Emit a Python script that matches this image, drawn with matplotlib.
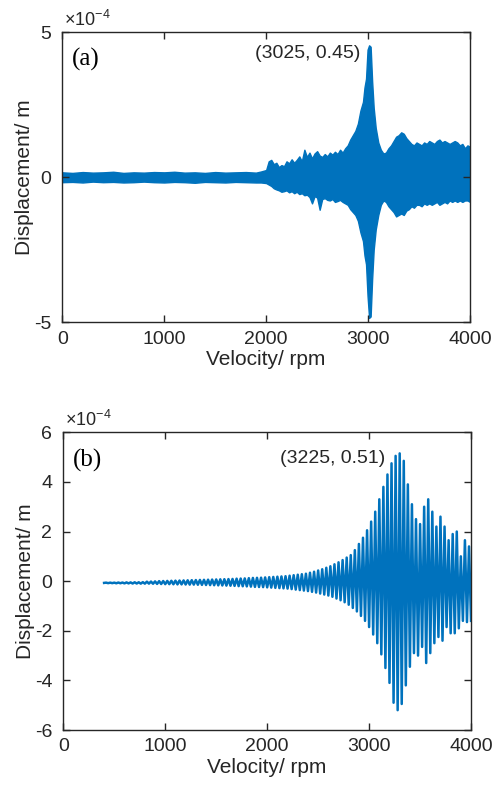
import numpy as np
import matplotlib
matplotlib.use("Agg")
import matplotlib.pyplot as plt

plt.rcParams['font.family'] = ['Liberation Sans', 'DejaVu Sans']
plt.rcParams['mathtext.fontset'] = 'custom'
plt.rcParams['mathtext.rm'] = 'Liberation Sans'
plt.rcParams['mathtext.it'] = 'Liberation Sans:italic'

# ---------------- Panel (a): envelope of the response (x1e-4 m) ----------------
rpm_a = [0, 100, 200, 300, 400, 500, 600, 700, 800, 900, 1000, 1100, 1200, 1300,
         1400, 1500, 1600, 1700, 1800, 1900, 1950,
         2000, 2025, 2050, 2075, 2100, 2125, 2150, 2175, 2200, 2225, 2250, 2275,
         2300, 2325, 2350, 2375, 2400, 2425, 2450, 2475, 2500, 2525, 2550, 2575,
         2600, 2625, 2650, 2675, 2700, 2725, 2750, 2775, 2800, 2825, 2850,
         2875, 2900, 2925, 2950, 2965, 2980, 2995, 3010, 3025, 3040, 3055, 3075,
         3100, 3125, 3150,
         3175, 3200, 3225, 3250, 3275, 3300, 3325, 3350, 3375, 3400, 3425, 3450,
         3475, 3500, 3525, 3550, 3575, 3600, 3625, 3650, 3675, 3700, 3725, 3750,
         3775, 3800, 3825, 3850, 3875, 3900, 3925, 3950, 3975, 4000]
upper_a = [0.17, 0.15, 0.18, 0.16, 0.17, 0.19, 0.15, 0.17, 0.16, 0.18, 0.17, 0.19,
           0.16, 0.17, 0.15, 0.18, 0.16, 0.17, 0.18, 0.16, 0.2,
           0.25, 0.55, 0.6, 0.45, 0.5, 0.35, 0.42, 0.38, 0.55, 0.48, 0.62, 0.5,
           0.6, 0.72, 0.55, 0.95, 0.7, 0.85, 0.65, 0.82, 0.9, 0.75, 0.7, 0.8,
           0.72, 0.85, 0.78, 0.88, 0.8, 0.95, 0.85, 1.0, 1.1, 1.3, 1.45,
           1.6, 1.85, 2.3, 2.6, 3.1, 3.4, 4.4, 4.55, 4.5, 3.3, 2.4, 1.7,
           1.2, 0.95, 0.82,
           0.85, 1.0, 1.1, 1.25, 1.4, 1.45, 1.55, 1.5, 1.35, 1.25, 1.15, 1.1,
           1.2, 1.15, 1.1, 1.2, 1.15, 1.25, 1.2, 1.15, 1.25, 1.3, 1.2, 1.25,
           1.2, 1.15, 1.2, 1.25, 1.2, 1.1, 1.15, 1.0, 1.1, 1.05]
lower_a = [-0.17, -0.16, -0.18, -0.15, -0.17, -0.16, -0.18, -0.17, -0.15, -0.17,
           -0.18, -0.16, -0.17, -0.19, -0.16, -0.17, -0.18, -0.16, -0.17, -0.18,
           -0.18,
           -0.2, -0.25, -0.3, -0.38, -0.42, -0.45, -0.5, -0.48, -0.45, -0.52,
           -0.48, -0.55, -0.5, -0.58, -0.55, -0.62, -0.6, -0.68, -0.9, -0.65,
           -0.7, -1.12, -0.75, -0.72, -0.78, -0.8, -0.75, -0.85, -0.82, -0.78,
           -0.85, -0.9, -0.95, -1.1, -1.2,
           -1.3, -1.5, -1.9, -2.2, -2.7, -3.0, -4.1, -4.85, -4.8, -3.5, -2.5,
           -1.8, -1.3, -0.95, -0.8,
           -0.85, -1.0, -1.1, -1.2, -1.35, -1.3, -1.25, -1.3, -1.15, -1.1, -1.0,
           -1.05, -0.95, -0.95, -1.0, -0.9, -0.95, -0.9, -0.95, -0.9, -0.85,
           -0.95, -0.9, -0.85, -0.9, -0.8, -0.85, -0.8, -0.85, -0.8, -0.85,
           -0.8, -0.8, -0.85]

# ---------------- Panel (b): oscillation peaks and troughs (x1e-4 m) ----------------
peak_rpm_b = np.arange(420, 4000, 40)      # 90 crests
trough_rpm_b = np.arange(440, 4001, 40)    # 90 troughs
peak_b = [-0.06, -0.06, -0.06, -0.055, -0.055, -0.05, -0.05, -0.045, -0.045, -0.04,
          -0.02, -0.015, -0.01, 0.0, 0.005, 0.01, 0.015, 0.02, 0.025, 0.03,
          0.035, 0.04, 0.045, 0.05, 0.055, 0.06, 0.065, 0.07, 0.075, 0.08,
          0.085, 0.09, 0.1, 0.105, 0.11, 0.12, 0.13, 0.135, 0.14, 0.15,
          0.16, 0.17, 0.18, 0.19, 0.2, 0.22, 0.24, 0.26, 0.28, 0.3,
          0.34, 0.38, 0.43, 0.48, 0.54, 0.6, 0.68, 0.76, 0.85, 0.95,
          1.05, 1.25, 1.5, 1.75, 2.05, 2.4, 2.8, 3.3, 3.8, 4.3,
          4.75, 5.05, 5.15, 4.85, 3.9, 3.1, 2.5, 2.3, 3.0, 3.3,
          2.8, 2.2, 2.6, 2.2, 1.65, 1.9, 2.0, 1.0, 1.65, 1.4]
trough_b = [-0.08, -0.08, -0.085, -0.085, -0.09, -0.09, -0.095, -0.095, -0.1, -0.1,
            -0.1, -0.105, -0.11, -0.115, -0.12, -0.12, -0.125, -0.13, -0.13, -0.135,
            -0.14, -0.14, -0.145, -0.15, -0.155, -0.16, -0.165, -0.17, -0.175, -0.18,
            -0.185, -0.19, -0.2, -0.205, -0.21, -0.22, -0.23, -0.235, -0.24, -0.25,
            -0.26, -0.27, -0.28, -0.29, -0.3, -0.32, -0.34, -0.36, -0.38, -0.4,
            -0.43, -0.46, -0.5, -0.54, -0.58, -0.63, -0.7, -0.77, -0.85, -0.95,
            -1.08, -1.22, -1.4, -1.6, -1.85, -2.15, -2.5, -2.95, -3.5, -4.1,
            -4.9, -5.2, -4.95, -4.2, -3.45, -2.9, -3.0, -2.65, -3.3, -2.9,
            -2.5, -2.25, -2.4, -1.85, -2.1, -2.1, -1.9, -1.6, -1.65, -1.6]

x_ticks = [0, 1000, 2000, 3000, 4000]
y_ticks_a = [-5, 0, 5]
y_ticks_b = [-6, -4, -2, 0, 2, 4, 6]
annot_a = "(3025, 0.45)"
annot_b = "(3225, 0.51)"

BLUE = '#0072BD'
DARK = '#262626'

fig = plt.figure(figsize=(4.92, 7.87), dpi=100)
ax_a = fig.add_axes([0.1266, 0.5905, 0.8287, 0.3685])
ax_b = fig.add_axes([0.1287, 0.0724, 0.8287, 0.3783])

# panel a
ax_a.fill_between(rpm_a, lower_a, upper_a, color=BLUE,
                  edgecolor=BLUE, linewidth=1.0)

# panel b: crest/trough sequence as a single line
xb = np.empty(len(peak_b) + len(trough_b))
yb = np.empty_like(xb)
xb[0::2] = peak_rpm_b
xb[1::2] = trough_rpm_b
yb[0::2] = peak_b
yb[1::2] = trough_b
xb = np.concatenate([[400], xb])
yb = np.concatenate([[-0.07], yb])
ax_b.plot(xb, yb, color=BLUE, linewidth=1.8)

for ax, yt, lab, ann, ann_xy, ylim in [
        (ax_a, y_ticks_a, '(a)', annot_a, (2925, 4.28), (-5, 5)),
        (ax_b, y_ticks_b, '(b)', annot_b, (3160, 4.96), (-6, 6))]:
    ax.set_xlim(0, 4000)
    ax.set_ylim(*ylim)
    ax.set_xticks(x_ticks)
    ax.set_yticks(yt)
    ax.set_xticklabels([str(v) for v in x_ticks])
    ax.set_yticklabels([str(v) for v in yt])
    ax.tick_params(direction='in', top=True, right=True, length=5, width=1,
                   color=DARK, labelcolor=DARK, labelsize=14)
    ax.tick_params(axis='x', pad=6)
    ax.tick_params(axis='y', pad=8)
    for s in ax.spines.values():
        s.set_color(DARK)
        s.set_linewidth(1.0)
    ax.set_xlabel('Velocity/ rpm', fontsize=15, color=DARK, labelpad=2)
    ax.set_ylabel('Displacement/ m', fontsize=15, color=DARK, labelpad=0)
    ax.text(0.024, 0.905, lab, transform=ax.transAxes, fontsize=18,
            family=['Liberation Serif', 'DejaVu Serif'], va='center', ha='left',
            color='black')
    ax.text(ann_xy[0], ann_xy[1], ann, fontsize=14, color=DARK, ha='right',
            va='center')
    ax.text(0.005, 1.008, r'$\times\mathregular{10^{-4}}$', transform=ax.transAxes,
            fontsize=13, color=DARK, ha='left', va='bottom')

fig.savefig('out.png', dpi=100)
